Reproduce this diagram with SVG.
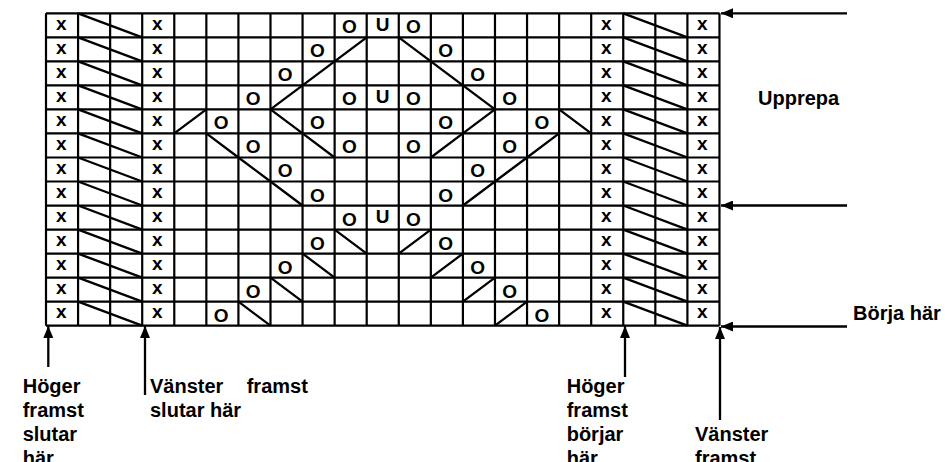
<svg xmlns="http://www.w3.org/2000/svg" width="945" height="462" viewBox="0 0 945 462">
<style>
.grid{fill:none;stroke:#000;stroke-width:2.2}
.diag{fill:none;stroke:#000;stroke-width:2.3}
.conn{fill:none;stroke:#000;stroke-width:2.3}
text{font-family:"Liberation Sans",Arial,sans-serif;font-weight:bold;fill:#000}
.c{font-size:19px;text-anchor:middle}
.lbl{font-size:20px}
</style>
<defs>
<marker id="ah" viewBox="0 0 12 10" refX="12" refY="5" markerWidth="12" markerHeight="10" orient="auto" markerUnits="userSpaceOnUse">
<path d="M0,0 L12,5 L0,10 z" fill="#000"/>
</marker>
</defs>
<rect width="945" height="462" fill="#fff"/>
<g id="chart">
<path class="grid" d="M46 13.3H719.47M46 37.33H719.47M46 61.36H719.47M46 85.39H719.47M46 109.42H719.47M46 133.45H719.47M46 157.48H719.47M46 181.51H719.47M46 205.54H719.47M46 229.57H719.47M46 253.6H719.47M46 277.63H719.47M46 301.66H719.47M46 325.69H719.47
M46 13.3V325.69M78.07 13.3V325.69M110.14 13.3V325.69M142.21 13.3V325.69M174.28 13.3V325.69M206.35 13.3V325.69M238.42 13.3V325.69M270.49 13.3V325.69M302.56 13.3V325.69M334.63 13.3V325.69M366.7 13.3V325.69M398.77 13.3V325.69M430.84 13.3V325.69M462.91 13.3V325.69M494.98 13.3V325.69M527.05 13.3V325.69M559.12 13.3V325.69M591.19 13.3V325.69M623.26 13.3V325.69M655.33 13.3V325.69M687.4 13.3V325.69M719.47 13.3V325.69"/>
<path class="diag" d="M78.07 13.3L142.21 37.33M78.07 37.33L142.21 61.36M78.07 61.36L142.21 85.39M78.07 85.39L142.21 109.42M78.07 109.42L142.21 133.45M78.07 133.45L142.21 157.48M78.07 157.48L142.21 181.51M78.07 181.51L142.21 205.54M78.07 205.54L142.21 229.57M78.07 229.57L142.21 253.6M78.07 253.6L142.21 277.63M78.07 277.63L142.21 301.66M78.07 301.66L142.21 325.69
M623.26 13.3L687.4 37.33M623.26 37.33L687.4 61.36M623.26 61.36L687.4 85.39M623.26 85.39L687.4 109.42M623.26 109.42L687.4 133.45M623.26 133.45L687.4 157.48M623.26 157.48L687.4 181.51M623.26 181.51L687.4 205.54M623.26 205.54L687.4 229.57M623.26 229.57L687.4 253.6M623.26 253.6L687.4 277.63M623.26 277.63L687.4 301.66M623.26 301.66L687.4 325.69"/>
<path class="diag" d="M334.63 61.36L366.7 37.33M398.77 37.33L430.84 61.36
M302.56 85.39L334.63 61.36M430.84 61.36L462.91 85.39
M270.49 109.42L302.56 85.39M462.91 85.39L494.98 109.42
M174.28 133.45L206.35 109.42M270.49 109.42L302.56 133.45M462.91 133.45L494.98 109.42M559.12 109.42L591.19 133.45
M206.35 133.45L238.42 157.48M302.56 133.45L334.63 157.48M430.84 157.48L462.91 133.45M527.05 157.48L559.12 133.45
M238.42 157.48L270.49 181.51M494.98 181.51L527.05 157.48
M270.49 181.51L302.56 205.54M462.91 205.54L494.98 181.51
M334.63 229.57L366.7 253.6M398.77 253.6L430.84 229.57
M302.56 253.6L334.63 277.63M430.84 277.63L462.91 253.6
M270.49 277.63L302.56 301.66M462.91 301.66L494.98 277.63
M238.42 301.66L270.49 325.69M494.98 325.69L527.05 301.66"/>
<g id="x-marks" class="c">
<text x="61.2" y="30">x</text><text x="157.4" y="30">x</text><text x="606.4" y="30">x</text><text x="702.2" y="30">x</text>
<text x="61.2" y="54.03">x</text><text x="157.4" y="54.03">x</text><text x="606.4" y="54.03">x</text><text x="702.2" y="54.03">x</text>
<text x="61.2" y="78.06">x</text><text x="157.4" y="78.06">x</text><text x="606.4" y="78.06">x</text><text x="702.2" y="78.06">x</text>
<text x="61.2" y="102.09">x</text><text x="157.4" y="102.09">x</text><text x="606.4" y="102.09">x</text><text x="702.2" y="102.09">x</text>
<text x="61.2" y="126.12">x</text><text x="157.4" y="126.12">x</text><text x="606.4" y="126.12">x</text><text x="702.2" y="126.12">x</text>
<text x="61.2" y="150.15">x</text><text x="157.4" y="150.15">x</text><text x="606.4" y="150.15">x</text><text x="702.2" y="150.15">x</text>
<text x="61.2" y="174.18">x</text><text x="157.4" y="174.18">x</text><text x="606.4" y="174.18">x</text><text x="702.2" y="174.18">x</text>
<text x="61.2" y="198.21">x</text><text x="157.4" y="198.21">x</text><text x="606.4" y="198.21">x</text><text x="702.2" y="198.21">x</text>
<text x="61.2" y="222.24">x</text><text x="157.4" y="222.24">x</text><text x="606.4" y="222.24">x</text><text x="702.2" y="222.24">x</text>
<text x="61.2" y="246.27">x</text><text x="157.4" y="246.27">x</text><text x="606.4" y="246.27">x</text><text x="702.2" y="246.27">x</text>
<text x="61.2" y="270.3">x</text><text x="157.4" y="270.3">x</text><text x="606.4" y="270.3">x</text><text x="702.2" y="270.3">x</text>
<text x="61.2" y="294.33">x</text><text x="157.4" y="294.33">x</text><text x="606.4" y="294.33">x</text><text x="702.2" y="294.33">x</text>
<text x="61.2" y="318.36">x</text><text x="157.4" y="318.36">x</text><text x="606.4" y="318.36">x</text><text x="702.2" y="318.36">x</text>
</g>
<g id="o-marks" class="c">
<text x="349.4" y="33.3">O</text><text x="382.7" y="30.7">U</text><text x="413.5" y="33.3">O</text>
<text x="317.3" y="57.33">O</text><text x="445.6" y="57.33">O</text>
<text x="285.2" y="81.36">O</text><text x="477.6" y="81.36">O</text>
<text x="253.2" y="105.39">O</text><text x="349.4" y="105.39">O</text><text x="382.7" y="102.79">U</text><text x="413.5" y="105.39">O</text><text x="509.7" y="105.39">O</text>
<text x="221.1" y="129.42">O</text><text x="317.3" y="129.42">O</text><text x="445.6" y="129.42">O</text><text x="541.8" y="129.42">O</text>
<text x="253.2" y="153.45">O</text><text x="349.4" y="153.45">O</text><text x="413.5" y="153.45">O</text><text x="509.7" y="153.45">O</text>
<text x="285.2" y="177.48">O</text><text x="477.6" y="177.48">O</text>
<text x="317.3" y="201.51">O</text><text x="445.6" y="201.51">O</text>
<text x="349.4" y="225.54">O</text><text x="382.7" y="222.94">U</text><text x="413.5" y="225.54">O</text>
<text x="317.3" y="249.57">O</text><text x="445.6" y="249.57">O</text>
<text x="285.2" y="273.6">O</text><text x="477.6" y="273.6">O</text>
<text x="253.2" y="297.63">O</text><text x="509.7" y="297.63">O</text>
<text x="221.1" y="321.66">O</text><text x="541.8" y="321.66">O</text>
</g>
</g>
<g id="connectors">
<line class="conn" x1="847" y1="13.3" x2="721" y2="13.3" marker-end="url(#ah)"/>
<line class="conn" x1="847" y1="205.5" x2="721" y2="205.5" marker-end="url(#ah)"/>
<line class="conn" x1="847" y1="326.5" x2="721" y2="326.5" marker-end="url(#ah)"/>
<line class="conn" x1="48.3" y1="367" x2="48.3" y2="326" marker-end="url(#ah)"/>
<line class="conn" x1="145" y1="395" x2="145" y2="326" marker-end="url(#ah)"/>
<line class="conn" x1="625" y1="377" x2="625" y2="326" marker-end="url(#ah)"/>
<line class="conn" x1="720" y1="420" x2="720" y2="327" marker-end="url(#ah)"/>
</g>
<g id="label-upprepa"><text class="lbl" x="758" y="105">Upprepa</text></g>
<g id="label-borja"><text class="lbl" x="853" y="320">Börja här</text></g>
<g id="label-hoger-slutar"><text class="lbl" x="22.7" y="393">Höger<tspan x="22.7" y="417">framst</tspan><tspan x="22.7" y="441">slutar</tspan><tspan x="22.7" y="465">här</tspan></text></g>
<g id="label-vanster-slutar"><text class="lbl" x="150" y="393">Vänster<tspan x="246.7" y="393">framst</tspan><tspan x="150" y="417">slutar här</tspan></text></g>
<g id="label-hoger-borjar"><text class="lbl" x="566.7" y="393">Höger<tspan x="566.7" y="417">framst</tspan><tspan x="566.7" y="441">börjar</tspan><tspan x="566.7" y="465">här</tspan></text></g>
<g id="label-vanster-framst"><text class="lbl" x="695" y="441">Vänster<tspan x="695" y="465">framst</tspan></text></g>
</svg>
